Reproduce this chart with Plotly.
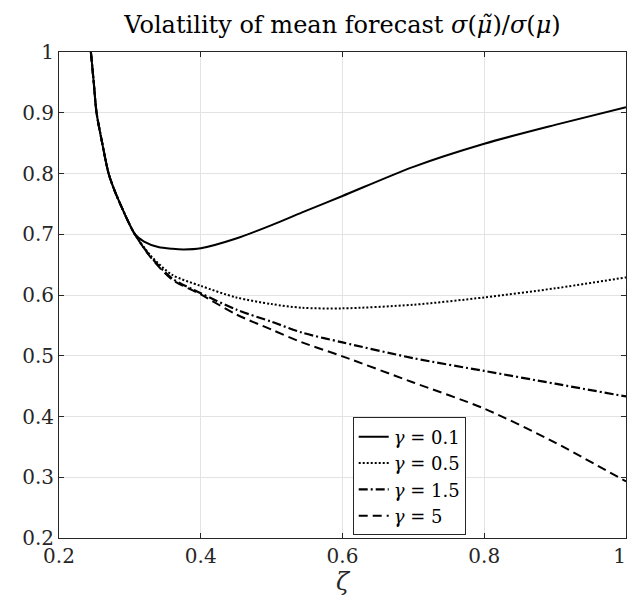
import plotly.graph_objects as go

# common steep branch (all gammas overlap)
zeta_common = [0.245, 0.249, 0.253, 0.261, 0.270, 0.279, 0.289, 0.298, 0.307]
val_common = [1.0, 0.95, 0.90, 0.85, 0.80, 0.77, 0.743, 0.72, 0.70]

zeta_g01 = [0.32, 0.34, 0.36, 0.376, 0.40, 0.45, 0.50, 0.543, 0.60, 0.70, 0.80, 0.90, 1.0]
val_g01 = [0.688, 0.679, 0.676, 0.675, 0.677, 0.693, 0.715, 0.736, 0.763, 0.811, 0.849, 0.880, 0.909]

zeta_rest = [0.33, 0.36, 0.40, 0.45, 0.50, 0.543, 0.60, 0.70, 0.80, 0.90, 1.0]
val_g05 = [0.664, 0.633, 0.615, 0.596, 0.585, 0.579, 0.578, 0.584, 0.596, 0.611, 0.629]
val_g15 = [0.662, 0.627, 0.603, 0.576, 0.556, 0.538, 0.522, 0.496, 0.475, 0.454, 0.433]
val_g5 = [0.661, 0.625, 0.601, 0.568, 0.543, 0.522, 0.499, 0.456, 0.413, 0.357, 0.293]

legend_labels = ["<i>γ</i> = 0.1", "<i>γ</i> = 0.5", "<i>γ</i> = 1.5", "<i>γ</i> = 5"]
x_ticks = [0.2, 0.4, 0.6, 0.8, 1.0]
x_ticktext = ["0.2", "0.4", "0.6", "0.8", "1\u00a0\u00a0"]
y_ticks = [0.2, 0.3, 0.4, 0.5, 0.6, 0.7, 0.8, 0.9, 1.0]
y_ticktext = ["0.2", "0.3", "0.4", "0.5", "0.6", "0.7", "0.8", "0.9", "1"]

series = [
    (zeta_common + zeta_g01, val_common + val_g01, "solid", 2.0),
    (zeta_common + zeta_rest, val_common + val_g05, "2px,2px", 2.0),
    (zeta_common + zeta_rest, val_common + val_g15, "9px,3px,2px,3px", 2.2),
    (zeta_common + zeta_rest, val_common + val_g5, "9px,5px", 2.0),
]

fig = go.Figure()
for (xs, ys, dash, w), name in zip(series, legend_labels):
    fig.add_trace(go.Scatter(
        x=xs, y=ys, mode="lines", name=name,
        line=dict(color="black", width=w, dash=dash, shape="spline", smoothing=0.8),
    ))

font_family = "DejaVu Serif"
axis_common = dict(
    showline=True, linecolor="#262626", linewidth=1, mirror="ticks",
    ticks="inside", ticklen=5, tickcolor="#262626",
    showgrid=True, gridcolor="#e3e3e3", gridwidth=1,
    zeroline=False, ticklabeloverflow="allow",
    tickfont=dict(family=font_family, size=20, color="#262626"),
)

fig.update_layout(
    width=636, height=600,
    paper_bgcolor="white", plot_bgcolor="white",
    margin=dict(l=51, r=5, t=44, b=70),
    title=dict(
        text="Volatility of mean forecast <i>σ</i>(<i>μ̃</i>)/<i>σ</i>(<i>μ</i>)",
        x=0.5, xanchor="center", y=0.972, yanchor="middle",
        xref="paper",
        font=dict(family="DejaVu Serif", size=24, color="black"),
    ),
    xaxis=dict(range=[0.2, 1.0], tickvals=x_ticks, ticktext=x_ticktext,
               title=dict(text="<i>ζ</i>", font=dict(family=font_family, size=24, color="#262626"), standoff=4),
               **axis_common),
    yaxis=dict(range=[0.2, 1.0], tickvals=y_ticks, ticktext=y_ticktext, **axis_common),
    legend=dict(
        x=0.518, y=0.248, xanchor="left", yanchor="top",
        bgcolor="white", bordercolor="#262626", borderwidth=1,
        font=dict(family=font_family, size=18, color="black"),
        tracegroupgap=0, itemwidth=30,
    ),
    showlegend=True,
)

fig.write_html("out.html")
